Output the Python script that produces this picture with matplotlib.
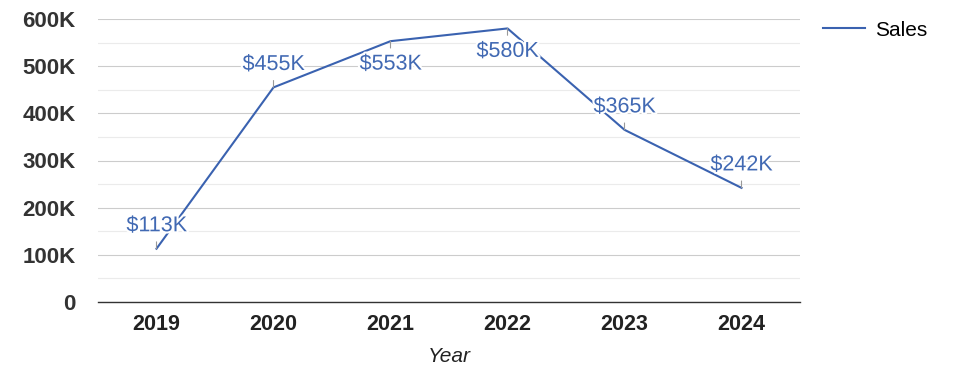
import matplotlib.pyplot as plt
import matplotlib.patheffects as pe
from matplotlib.ticker import MultipleLocator

plt.rcParams['font.family'] = ['Liberation Sans', 'DejaVu Sans']

years = ['2019', '2020', '2021', '2022', '2023', '2024']
sales = [113, 455, 553, 580, 365, 242]  # thousands
label_side = ['above', 'above', 'below', 'below', 'above', 'above']
ytick_vals = [0, 100, 200, 300, 400, 500, 600]
ytick_labels = ['0', '100K', '200K', '300K', '400K', '500K', '600K']

line_color = '#3a62b0'
label_color = '#4169b3'

fig = plt.figure(figsize=(9.75, 3.78), dpi=100)
ax = fig.add_axes([98/975, 1-302/378, 702/975, 283/378])

x = list(range(len(years)))
ax.plot(x, sales, color=line_color, lw=1.5, label='Sales', zorder=3)

for xi, v, side in zip(x, sales, label_side):
    dy = 16.5 if side == 'above' else -16.5
    ax.annotate(f'${v}K', xy=(xi, v), xytext=(0, dy), textcoords='offset points',
                ha='center', va='center', fontsize=15.5, color=label_color,
                path_effects=[pe.withStroke(linewidth=3, foreground='white')],
                arrowprops=dict(arrowstyle='-', color='#999999', lw=0.8,
                                shrinkA=2, shrinkB=0), zorder=4)

ax.set_xlim(-0.5, len(years) - 0.5)
ax.set_ylim(0, 600)
ax.set_xticks(x)
ax.set_xticklabels(years, fontsize=15.5, fontweight='bold', color='#222222')
ax.set_yticks(ytick_vals)
ax.set_yticklabels(ytick_labels, fontsize=16, fontweight='bold', color='#333333')
ax.yaxis.set_minor_locator(MultipleLocator(50))
ax.grid(axis='y', which='major', color='#cccccc', lw=0.8)
ax.grid(axis='y', which='minor', color='#ebebeb', lw=0.8)
ax.set_axisbelow(True)
ax.tick_params(axis='both', which='both', length=0)
ax.tick_params(axis='y', pad=16)
ax.tick_params(axis='x', pad=9)
for s in ['top', 'right', 'left']:
    ax.spines[s].set_visible(False)
ax.spines['bottom'].set_color('#333333')
ax.spines['bottom'].set_linewidth(1)

ax.set_xlabel('Year', fontsize=15, fontstyle='italic', color='#222222', labelpad=8)

ax.legend(loc='center left', bbox_to_anchor=(1.033, 1 - 11/283), frameon=False,
          fontsize=15, handlelength=2, handletextpad=0.5, borderaxespad=0,
          borderpad=0)

fig.savefig('out.png', dpi=100)
